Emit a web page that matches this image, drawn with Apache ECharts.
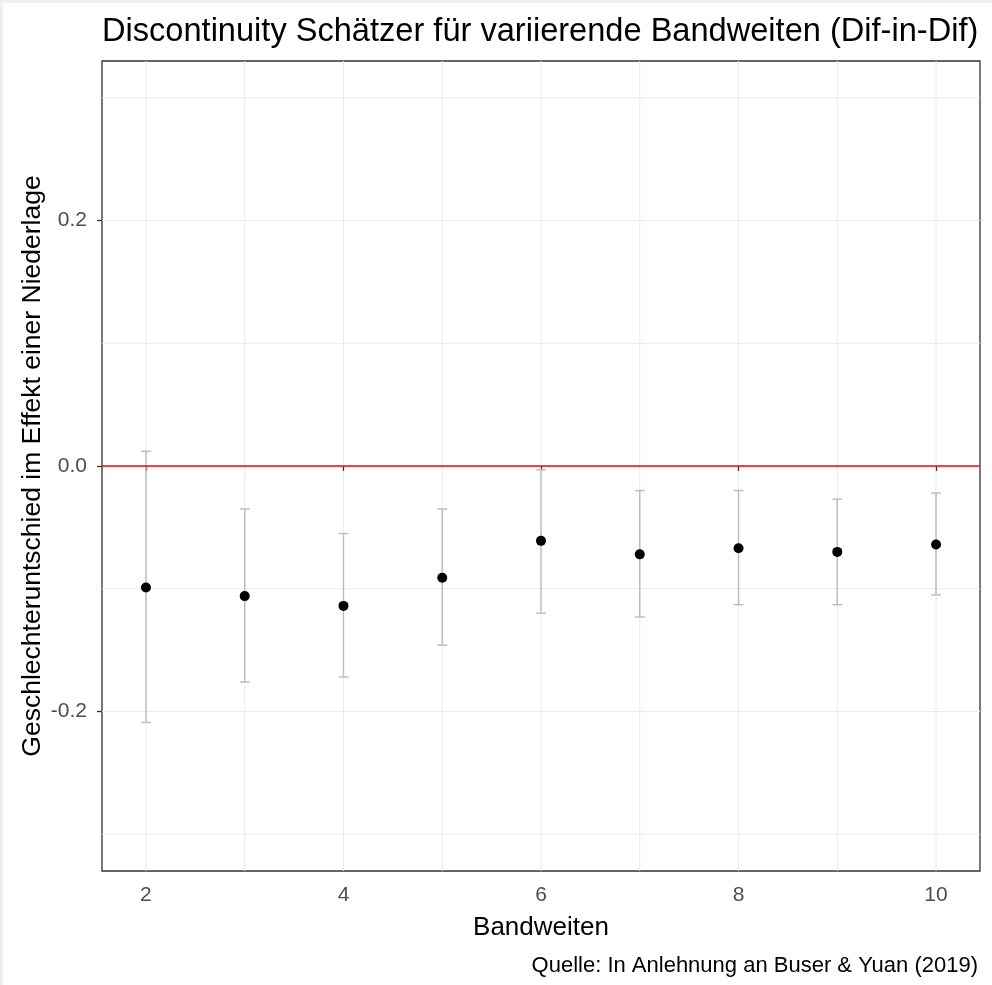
<!DOCTYPE html>
<html>
<head>
<meta charset="utf-8">
<script src="https://cdn.jsdelivr.net/npm/echarts@6/dist/echarts.min.js"></script>
<style>
  html, body { margin: 0; padding: 0; background: #ffffff; }
  #chart { width: 992px; height: 985px; }
</style>
</head>
<body>
<div id="chart"></div>
<script>
// Bandwidths and RD estimates with confidence bounds
const bandwidths = [2, 3, 4, 5, 6, 7, 8, 9, 10];
const estimates  = [-0.099, -0.106, -0.114, -0.091, -0.061, -0.072, -0.067, -0.070, -0.064];
const ciLower    = [-0.209, -0.176, -0.172, -0.146, -0.120, -0.123, -0.113, -0.113, -0.105];
const ciUpper    = [ 0.012, -0.035, -0.055, -0.035, -0.003, -0.020, -0.020, -0.027, -0.022];

// Axis ticks and panel grid
const xTickValues = [2, 4, 6, 8, 10];
const yTickValues = [-0.2, 0, 0.2];
const xGridValues = [2, 3, 4, 5, 6, 7, 8, 9, 10];
const yGridValues = [-0.3, -0.2, -0.1, 0, 0.1, 0.2, 0.3];
const referenceLine = [0];

const FONT = '"Liberation Sans", Arial, sans-serif';
const CAP_WIDTH = 0.1; // error bar cap width in x units

const chart = echarts.init(document.getElementById('chart'), null, { renderer: 'canvas' });

function verticalGrid(params, api) {
  const cs = params.coordSys;
  const x = api.coord([api.value(0), 0])[0];
  return { type: 'line', shape: { x1: x, y1: cs.y, x2: x, y2: cs.y + cs.height },
           style: { stroke: '#EBEBEB', lineWidth: 1 }, silent: true };
}
function horizontalGrid(params, api) {
  const cs = params.coordSys;
  const y = api.coord([2, api.value(0)])[1];
  const isZero = params.seriesName === 'zero';
  return { type: 'line', shape: { x1: cs.x, y1: y, x2: cs.x + cs.width, y2: y },
           style: { stroke: isZero ? '#FF0000' : '#EBEBEB', lineWidth: isZero ? 1.6 : 1 }, silent: true };
}
function errorBar(params, api) {
  const x = api.value(0);
  const lo = api.coord([x, api.value(1)]);
  const hi = api.coord([x, api.value(2)]);
  const left = api.coord([x - CAP_WIDTH / 2, 0])[0];
  const right = api.coord([x + CAP_WIDTH / 2, 0])[0];
  const st = { stroke: '#BEBEBE', lineWidth: 1.5 };
  return { type: 'group', children: [
    { type: 'line', shape: { x1: lo[0], y1: lo[1], x2: hi[0], y2: hi[1] }, style: st },
    { type: 'line', shape: { x1: left, y1: lo[1], x2: right, y2: lo[1] }, style: st },
    { type: 'line', shape: { x1: left, y1: hi[1], x2: right, y2: hi[1] }, style: st }
  ]};
}

const option = {
  backgroundColor: '#ffffff',
  animation: false,
  graphic: [
    { type: 'rect', left: 0, top: 0, shape: { width: 992, height: 3 }, style: { fill: '#F0F0F0' }, silent: true },
    { type: 'rect', left: 0, top: 0, shape: { width: 3, height: 985 }, style: { fill: '#F0F0F0' }, silent: true }
  ],
  title: [
    { text: 'Discontinuity Schätzer für variierende Bandweiten (Dif-in-Dif)',
      left: 102, top: 16, padding: 0,
      textStyle: { fontFamily: FONT, fontSize: 32.6, fontWeight: 'normal', color: '#000000' } },
    { text: 'Quelle: In Anlehnung an Buser & Yuan (2019)',
      right: 14, top: 955, padding: 0,
      textStyle: { fontFamily: FONT, fontSize: 22, fontWeight: 'normal', color: '#000000' } }
  ],
  grid: { left: 102, right: 12, top: 61, bottom: 114, show: true,
          borderColor: '#333333', borderWidth: 1.3, backgroundColor: 'transparent' },
  xAxis: {
    type: 'value', min: 1.555, max: 10.445,
    name: 'Bandweiten', nameLocation: 'middle', nameGap: 44,
    nameTextStyle: { fontFamily: FONT, fontSize: 26, color: '#000000' },
    axisLine: { show: false },
    splitLine: { show: false },
    axisTick: { show: true, customValues: xTickValues, length: 5, lineStyle: { color: '#333333', width: 1.3 } },
    axisLabel: { customValues: xTickValues, margin: 14, fontFamily: FONT, fontSize: 21, color: '#4D4D4D',
                 formatter: v => String(v) }
  },
  yAxis: {
    type: 'value', min: -0.33, max: 0.33,
    name: 'Geschlechteruntschied im Effekt einer Niederlage', nameLocation: 'middle', nameGap: 56,
    nameRotate: 90, nameMoveOverlap: false,
    nameTextStyle: { fontFamily: FONT, fontSize: 26.5, color: '#000000' },
    axisLine: { show: false },
    splitLine: { show: false },
    axisTick: { show: true, customValues: yTickValues, length: 5, lineStyle: { color: '#333333', width: 1.3 } },
    axisLabel: { customValues: yTickValues, margin: 15, fontFamily: FONT, fontSize: 21, color: '#4D4D4D',
                 formatter: v => v.toFixed(1) }
  },
  series: [
    { name: 'xgrid', type: 'custom', renderItem: verticalGrid, z: 0, silent: true,
      data: xGridValues.map(v => [v]), encode: { x: 0 } },
    { name: 'ygrid', type: 'custom', renderItem: horizontalGrid, z: 0, silent: true,
      data: yGridValues.map(v => [v]), encode: { y: 0 } },
    { name: 'ci', type: 'custom', renderItem: errorBar, z: 2, silent: true,
      data: bandwidths.map((b, i) => [b, ciLower[i], ciUpper[i]]), encode: { x: 0, y: [1, 2] } },
    { name: 'zero', type: 'custom', renderItem: horizontalGrid, z: 3, silent: true,
      data: referenceLine.map(v => [v]), encode: { y: 0 } },
    { name: 'estimate', type: 'scatter', z: 4, symbol: 'circle', symbolSize: 10,
      itemStyle: { color: '#000000', opacity: 1 },
      data: bandwidths.map((b, i) => [b, estimates[i]]) }
  ]
};

chart.setOption(option);
</script>
</body>
</html>
